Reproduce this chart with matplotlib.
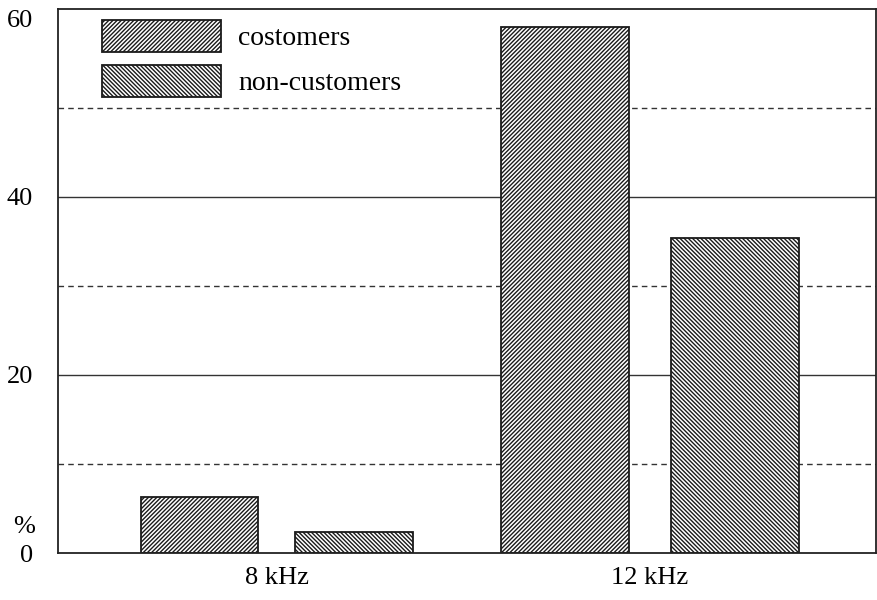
import numpy as np
import matplotlib
matplotlib.use("Agg")
import matplotlib.pyplot as plt

plt.rcParams['font.family'] = ['Liberation Serif', 'DejaVu Serif']
plt.rcParams['hatch.linewidth'] = 1.0

groups = ["8 kHz", "12 kHz"]
series = ["costomers", "non-customers"]
customers = [6.3, 59.1]
non_customers = [2.4, 35.4]
hatches = ["////////", "\\\\\\\\\\\\\\\\"]

fig = plt.figure(figsize=(8.77, 6.0), dpi=100)
ax = fig.add_axes([58 / 877, 47 / 600, 818 / 877, 544 / 600])

x = np.arange(len(groups))
# the two groups are not drawn quite alike in the original
off = np.array([0.207, 0.229])
w = np.array([0.315, 0.343])

# grid first so the bars sit on top of it
for yv in [10, 30, 50]:
    ax.axhline(yv, color="#333333", lw=1.0, ls=(0, (4, 3)), zorder=1)
for yv in [20, 40]:
    ax.axhline(yv, color="#333333", lw=1.0, zorder=1)

ax.bar(x - off, customers, w, color="white", edgecolor="#1a1a1a",
       lw=1.3, hatch=hatches[0], zorder=2, label=series[0])
ax.bar(x + off, non_customers, w, color="white", edgecolor="#1a1a1a",
       lw=1.3, hatch=hatches[1], zorder=2, label=series[1])

ax.set_xlim(-0.587, 1.606)
ax.set_ylim(0, 61.1)
ax.set_yticks([0, 20, 40, 60])
ax.set_xticks(x)
ax.set_xticklabels(groups)
ax.tick_params(axis="both", length=0, labelsize=19)
ax.tick_params(axis="y", pad=18)
ax.tick_params(axis="x", pad=10)
for sp in ax.spines.values():
    sp.set_linewidth(1.3)
    sp.set_color("#222222")

fig.text(24 / 877, 1 - 527 / 600, "%", fontsize=19, ha="center", va="center")

ax.legend(loc="upper left", bbox_to_anchor=(44 / 818, 1 - 11 / 544),
          frameon=False, fontsize=20, handlelength=4.3, handleheight=1.4,
          handletextpad=0.6, labelspacing=0.45, borderpad=0,
          borderaxespad=0)

fig.savefig("out.png", dpi=100)
